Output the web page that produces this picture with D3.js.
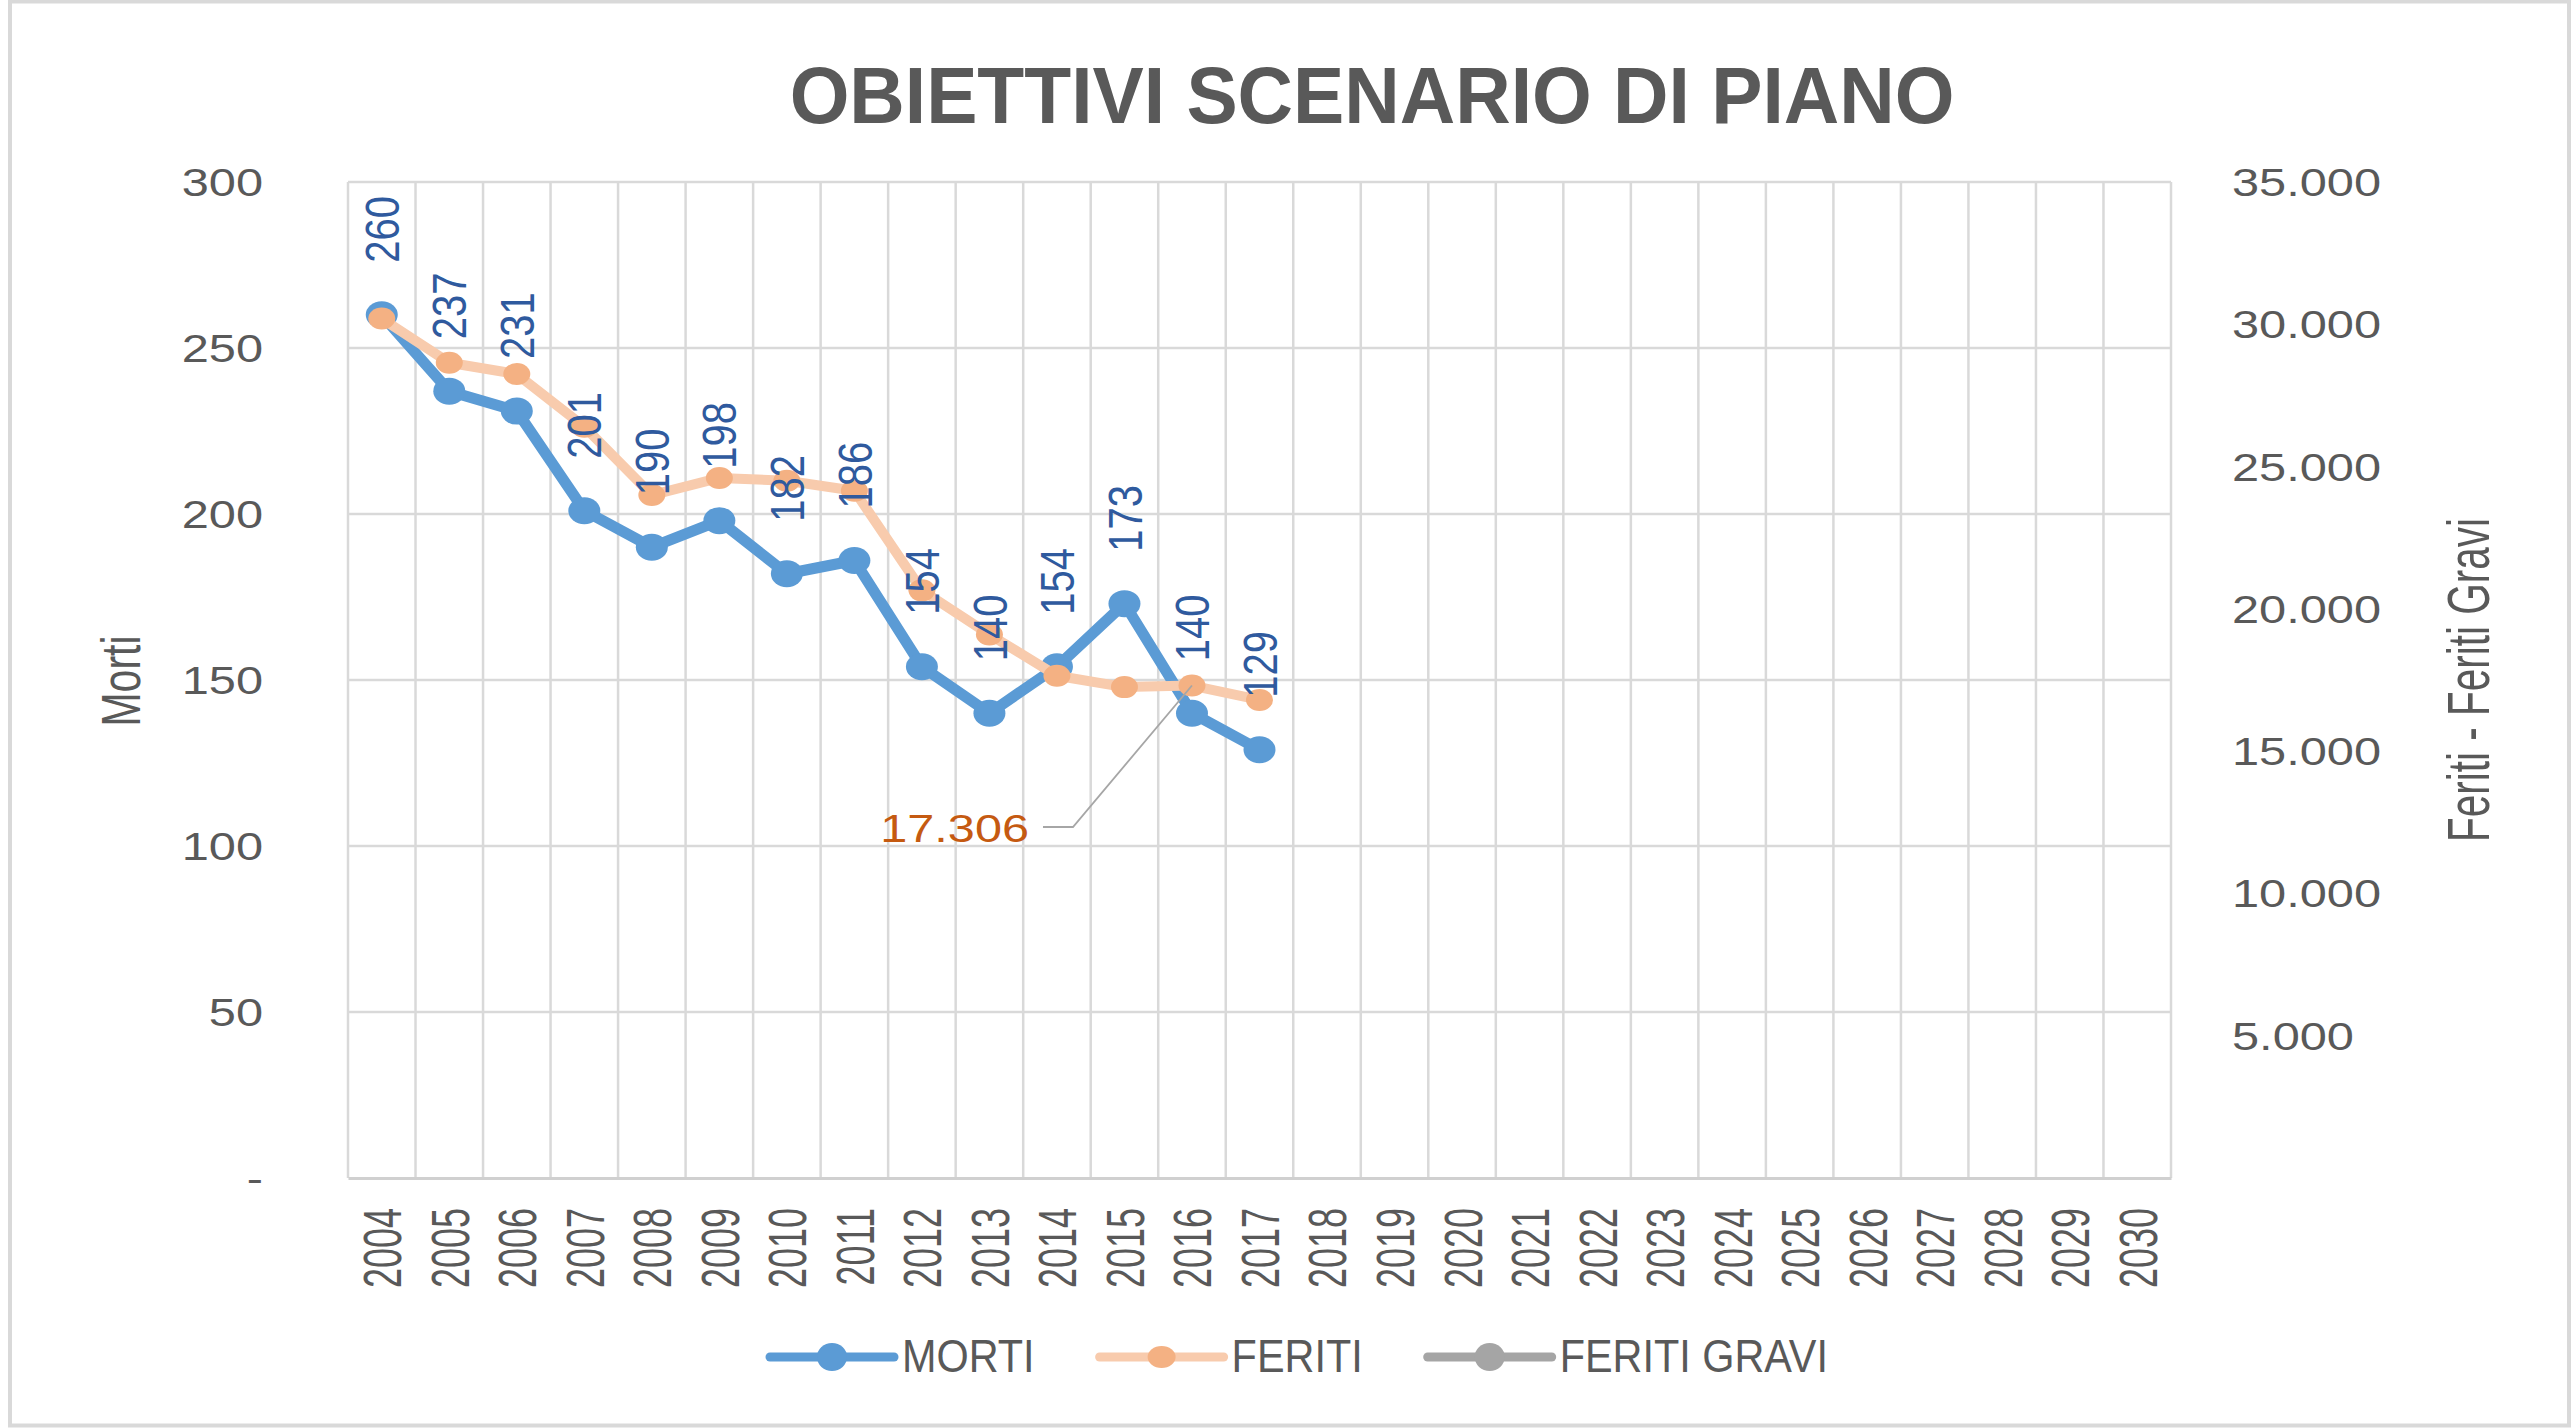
<!DOCTYPE html>
<html>
<head>
<meta charset="utf-8">
<script src="https://cdn.jsdelivr.net/npm/d3@7/dist/d3.min.js"></script>
<style>
  body { margin: 0; background: #fff; }
  svg { display: block; }
</style>
</head>
<body>
<svg id="chart" width="2573" height="1428"></svg>
<script>
// categories and series
var years = ["2004", "2005", "2006", "2007", "2008", "2009", "2010", "2011", "2012",
  "2013", "2014", "2015", "2016", "2017", "2018", "2019", "2020", "2021", "2022",
  "2023", "2024", "2025", "2026", "2027", "2028", "2029", "2030"];
var morti = [260, 237, 231, 201, 190, 198, 182, 186, 154, 140, 154, 173, 140, 129];
var feriti = [30200, 28650, 28250, 26400, 24000, 24600, 24500, 24150, 20650, 19100,
  17650, 17250, 17306, 16800];
var feritiGravi = [];
var mortiTicks = [0, 50, 100, 150, 200, 250, 300];
var feritiTicks = [5000, 10000, 15000, 20000, 25000, 30000, 35000];
var legendNames = ["MORTI", "FERITI", "FERITI GRAVI"];
var calloutYear = "2016";

var W = 2573, H = 1428;
var margins = { top: 182, bottom: 250, left: 348, right: 402 };
var gray = "#595959";
var sans = "'Liberation Sans', Arial, sans-serif";

var it = d3.formatLocale({ decimal: ",", thousands: ".", grouping: [3], currency: ["€", ""] });
var fmt = it.format(",d");

var svg = d3.select("#chart");

// outer chart frame
svg.append("rect")
  .attr("x", 10).attr("y", 1.5)
  .attr("width", W - 14).attr("height", H - 4)
  .attr("fill", "#fff").attr("stroke", "#d9d9d9").attr("stroke-width", 4);

var xScale = d3.scaleBand().domain(years).range([margins.left, W - margins.right]);
var yLeft = d3.scaleLinear().domain([0, 300]).range([H - margins.bottom, margins.top]);
var yRight = d3.scaleLinear().domain([0, 35000]).range([H - margins.bottom, margins.top]);
var bw = xScale.bandwidth();
var cx = function (i) { return xScale(years[i]) + bw / 2; };

// text with its own stretch, the fonts of the picture are narrow or wide
function label(g, x, y, str, o) {
  return g.append("text")
    .attr("transform", "translate(" + x + "," + y + ") rotate(" + (o.rot || 0) + ") scale(" + (o.sx || 1) + "," + (o.sy || 1) + ")")
    .attr("text-anchor", o.anchor || "start")
    .attr("dy", o.dy || 0)
    .style("font-family", o.family || sans)
    .style("font-size", o.size + "px")
    .style("font-weight", o.weight || "normal")
    .attr("fill", o.fill || gray)
    .text(str);
}

/** grid */
var grid = svg.append("g");
grid.selectAll("line.h")
  .data(mortiTicks.slice(1))
  .enter().append("line")
  .attr("x1", margins.left).attr("x2", W - margins.right)
  .attr("y1", d => yLeft(d)).attr("y2", d => yLeft(d))
  .attr("stroke", "#d9d9d9").attr("stroke-width", 2.5);
grid.selectAll("line.v")
  .data(years.concat(["end"]))
  .enter().append("line")
  .attr("x1", (d, i) => margins.left + i * bw).attr("x2", (d, i) => margins.left + i * bw)
  .attr("y1", yLeft(300)).attr("y2", yLeft(0))
  .attr("stroke", "#d9d9d9").attr("stroke-width", 2.5);

// category axis
var xAxis = svg.append("g")
  .attr("transform", "translate(0," + yLeft(0) + ")")
  .call(d3.axisBottom(xScale).tickSize(0).tickFormat(""));
xAxis.select(".domain").attr("stroke", "#d0d0d0").attr("stroke-width", 3);

var xLab = svg.append("g");
years.forEach(function (y, i) {
  label(xLab, cx(i), yLeft(0) + 30, y, { rot: -90, sy: 1.5, size: 36, anchor: "end", dy: "0.36em" });
});

/** value axes */
var left = svg.append("g");
mortiTicks.forEach(function (t) {
  label(left, 263, yLeft(t), t === 0 ? "-" : fmt(t), { size: 39, sx: 1.25, anchor: "end", dy: "0.36em" });
});
var right = svg.append("g");
feritiTicks.forEach(function (t) {
  label(right, 2232, yRight(t), fmt(t), { size: 39, sx: 1.25, anchor: "start", dy: "0.36em" });
});

label(svg, 120, 681, "Morti", { rot: -90, sy: 1.35, size: 41, anchor: "middle", dy: "0.36em" });
label(svg, 2468, 680, "Feriti - Feriti Gravi", { rot: -90, sy: 1.45, size: 40.5, anchor: "middle", dy: "0.36em" });

/** title */
label(svg, 1372, 123, "OBIETTIVI SCENARIO DI PIANO", { size: 80, sx: 0.96, weight: "bold", anchor: "middle" });

/** series */
var lineM = d3.line().x((d, i) => cx(i)).y(d => yLeft(d));
var lineF = d3.line().x((d, i) => cx(i)).y(d => yRight(d));

svg.append("path").datum(morti)
  .attr("d", lineM).attr("fill", "none")
  .attr("stroke", "#5b9bd5").attr("stroke-width", 11).attr("stroke-linejoin", "round");
svg.append("g").selectAll("ellipse")
  .data(morti).enter().append("ellipse")
  .attr("cx", (d, i) => cx(i)).attr("cy", d => yLeft(d))
  .attr("rx", 16).attr("ry", 13.5).attr("fill", "#5b9bd5");

svg.append("path").datum(feriti)
  .attr("d", lineF).attr("fill", "none")
  .attr("stroke", "#f8cbad").attr("stroke-width", 10).attr("stroke-linejoin", "round");
svg.append("g").selectAll("ellipse")
  .data(feriti).enter().append("ellipse")
  .attr("cx", (d, i) => cx(i)).attr("cy", d => yRight(d))
  .attr("rx", 13.5).attr("ry", 11).attr("fill", "#f4b183");

// no points for feriti gravi, only its legend entry
svg.append("path").datum(feritiGravi)
  .attr("d", lineF).attr("fill", "none").attr("stroke", "#a5a5a5").attr("stroke-width", 10);

/** data labels */
var dl = svg.append("g");
morti.forEach(function (v, i) {
  label(dl, cx(i), yLeft(v) - 52, fmt(v), { rot: -90, sy: 1.19, size: 40, fill: "#2f5a9e", dy: "0.36em" });
});

// single callout on feriti
var ci = years.indexOf(calloutYear);
var px = cx(ci), py = yRight(feriti[ci]);
svg.append("path")
  .attr("d", d3.line()([[px - 149, py + 141.5], [px - 119, py + 141.5], [px, py]]))
  .attr("fill", "none").attr("stroke", "#a6a6a6").attr("stroke-width", 1.8);
label(svg, px - 163, py + 156.5, fmt(feriti[ci]), { size: 38, sx: 1.28, fill: "#c55a11", anchor: "end" });

/** legend */
var legendColors = [
  { line: "#5b9bd5", dot: "#5b9bd5", rx: 15, ry: 14 },
  { line: "#f8cbad", dot: "#f4b183", rx: 14, ry: 11 },
  { line: "#a5a5a5", dot: "#a5a5a5", rx: 15, ry: 14 }
];
var leg = svg.append("g");
var legY = 1357, lineLen = 124, legSx = 0.9;
var items = legendNames.map(function (name, i) {
  var g = leg.append("g");
  var c = legendColors[i];
  g.append("line").attr("x1", 0).attr("x2", lineLen).attr("y1", legY).attr("y2", legY)
    .attr("stroke", c.line).attr("stroke-width", 9).attr("stroke-linecap", "round");
  g.append("ellipse").attr("cx", lineLen / 2).attr("cy", legY).attr("rx", c.rx).attr("ry", c.ry).attr("fill", c.dot);
  var t = label(g, lineLen + 8, legY + 15, name, { size: 46, sx: legSx });
  return { g: g, w: lineLen + 8 + t.node().getComputedTextLength() * legSx };
});
var total = d3.sum(items, d => d.w) + 65 * (items.length - 1);
var pos = 1299 - total / 2;
items.forEach(function (d) {
  d.g.attr("transform", "translate(" + pos + ",0)");
  pos += d.w + 65;
});
</script>
</body>
</html>
